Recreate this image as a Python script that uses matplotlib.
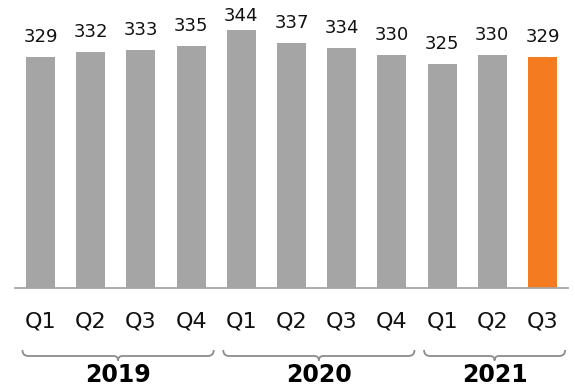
import matplotlib
matplotlib.use("Agg")
import matplotlib.pyplot as plt
from matplotlib.path import Path
from matplotlib.patches import PathPatch
from matplotlib.transforms import blended_transform_factory

plt.rcParams["font.family"] = ["DejaVu Sans"]

# Quarterly values
quarters = ["Q1", "Q2", "Q3", "Q4", "Q1", "Q2", "Q3", "Q4", "Q1", "Q2", "Q3"]
values = [329, 332, 333, 335, 344, 337, 334, 330, 325, 330, 329]
years = ["2019", "2020", "2021"]
year_spans = [(0, 3), (4, 7), (8, 10)]  # first and last bar index of each year

GRAY = "#A5A5A5"
ORANGE = "#F47B20"
BRACE = "#8C8C8C"

W, H = 575, 389
fig = plt.figure(figsize=(W / 100, H / 100), dpi=100)

# axes placed in pixel terms
left, right, bottom, top = 15.4, 567.6, 288.0, 0.0
ax = fig.add_axes([left / W, 1 - bottom / H, (right - left) / W, (bottom - top) / H])

ymin, px_per_unit = 200, 1.79
ymax = ymin + (bottom - top) / px_per_unit
ax.set_xlim(-0.5, len(values) - 0.5)
ax.set_ylim(ymin, ymax)

colors = [GRAY] * (len(values) - 1) + [ORANGE]
x = list(range(len(values)))
ax.bar(x, values, width=0.58, color=colors, zorder=2)

# value labels above bars, kept inside the plot area
gap_units = 15.0 / px_per_unit
ceiling = ymin + (bottom - 20.7) / px_per_unit
for xi, v in zip(x, values):
    ax.text(xi, min(v + gap_units, ceiling), str(v), ha="center", va="baseline",
            fontsize=13, color="#111111")

for s in ["top", "right", "left"]:
    ax.spines[s].set_visible(False)
ax.spines["bottom"].set_color("#A6A6A6")
ax.spines["bottom"].set_linewidth(1.3)
ax.set_yticks([])
ax.set_xticks(x)
ax.set_xticklabels(quarters, fontsize=16, color="#111111")
ax.tick_params(axis="x", length=0, pad=17)

# year braces beneath the quarter labels
trans = blended_transform_factory(ax.transData, ax.transAxes)
def ay(py):
    return (bottom - py) / (bottom - top)

yT, yM, yB = ay(350), ay(356), ay(360.5)
r, r2 = 0.12, 0.09
for (i0, i1), label in zip(year_spans, years):
    x0, x1 = i0 - 0.36, i1 + 0.45
    xc = (x0 + x1) / 2
    verts = [(x0, yT), (x0, yM), (x0 + r, yM),
             (xc - r2, yM),
             (xc, yM), (xc, yB),
             (xc, yM), (xc + r2, yM),
             (x1 - r, yM),
             (x1, yM), (x1, yT)]
    codes = [Path.MOVETO, Path.CURVE3, Path.CURVE3,
             Path.LINETO,
             Path.CURVE3, Path.CURVE3,
             Path.CURVE3, Path.CURVE3,
             Path.LINETO,
             Path.CURVE3, Path.CURVE3]
    ax.add_patch(PathPatch(Path(verts, codes), transform=trans, fill=False,
                           edgecolor=BRACE, linewidth=1.3, clip_on=False))
    ax.text(xc, ay(375.5), label, transform=trans, ha="center", va="center",
            fontsize=17, fontweight="bold", color="#000000")

fig.savefig("out.png", dpi=100)
